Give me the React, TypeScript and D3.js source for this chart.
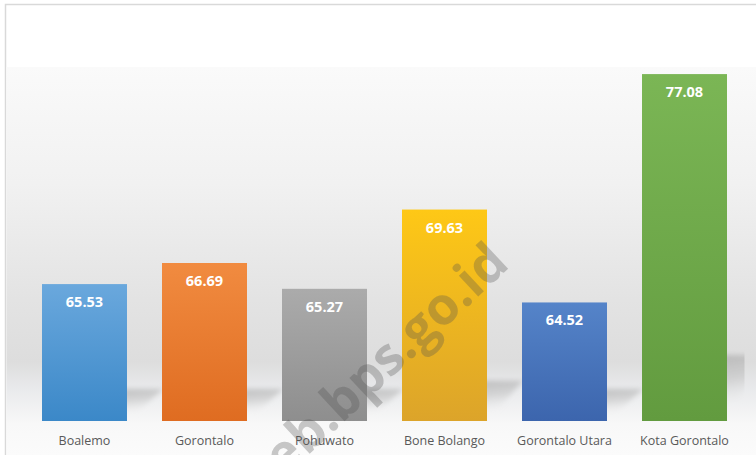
import React from "react";
import * as d3 from "d3";

const categories = ["Boalemo", "Gorontalo", "Pohuwato", "Bone Bolango", "Gorontalo Utara", "Kota Gorontalo"];
const values = [65.53, 66.69, 65.27, 69.63, 64.52, 77.08];
const topColors = ["#6aa8dd", "#f18b40", "#ababab", "#fec816", "#5584c9", "#7bb655"];
const bottomColors = ["#3b88c8", "#df6c21", "#8e8e8e", "#dca42a", "#3c65ad", "#629b3f"];
const watermark = "web.bps.go.id";

const W = 756;
const H = 455;

export default function App() {
  const x = d3
    .scaleBand<string>()
    .domain(categories)
    .range([24.5, 744.5])
    .paddingInner(0.2917)
    .paddingOuter(0.1458);
  const y = d3.scaleLinear().domain([58, 80]).range([421, 21]);
  const base = y(58);
  const bw = x.bandwidth();
  const [px0, px1] = x.range();

  return (
    <svg
      width={W}
      height={H}
      style={{ position: "absolute", left: 0, top: 0, display: "block" }}
      xmlns="http://www.w3.org/2000/svg"
    >
      <defs>
        <linearGradient id="bg" x1="0" y1="67" x2="0" y2="455" gradientUnits="userSpaceOnUse">
          <stop offset="0" stopColor="#fafafa" />
          <stop offset="0.3" stopColor="#f1f1f1" />
          <stop offset="0.6" stopColor="#e3e3e3" />
          <stop offset="0.76" stopColor="#dddddd" />
          <stop offset="0.83" stopColor="#e9eaec" />
          <stop offset="0.92" stopColor="#f8f8f8" />
          <stop offset="1" stopColor="#fbfbfb" />
        </linearGradient>
        {categories.map((c, i) => (
          <linearGradient key={c} id={`bar${i}`} x1="0" y1="0" x2="0" y2="1">
            <stop offset="0" stopColor={topColors[i]} />
            <stop offset="1" stopColor={bottomColors[i]} />
          </linearGradient>
        ))}
        <linearGradient id="shadow" x1="0" y1="0" x2="0.35" y2="1">
          <stop offset="0" stopColor="#a0a0a0" stopOpacity="0.8" />
          <stop offset="0.55" stopColor="#bdbdbd" stopOpacity="0.5" />
          <stop offset="1" stopColor="#ffffff" stopOpacity="0" />
        </linearGradient>
        <filter id="blur" x="-20%" y="-20%" width="140%" height="140%">
          <feGaussianBlur stdDeviation="2.5" />
        </filter>
        <clipPath id="plotClip">
          <rect x={px0} y={0} width={px1 - px0} height={base} />
        </clipPath>
      </defs>
      <rect x={0} y={0} width={W} height={H} fill="#ffffff" />
      <rect x={5.5} y={4.5} width={900} height={600} fill="#ffffff" stroke="#d9d9d9" strokeWidth={1.5} />
      <rect x={6.5} y={67} width={W} height={H - 67} fill="url(#bg)" />

      <g clipPath="url(#plotClip)">
        <g filter="url(#blur)">
          {categories.map((c, i) => {
            const x0 = x(c)!;
            const x1 = x0 + bw;
            const h = base - y(values[i]);
            const sh = Math.max(32, h * 0.19);
            const dx = 36;
            const pts = [
              [x0, base],
              [x0 + dx, base - sh],
              [x1 + dx, base - sh],
              [x1, base],
            ]
              .map((p) => p.join(","))
              .join(" ");
            return <polygon key={`s${c}`} points={pts} fill="url(#shadow)" />;
          })}
        </g>
      </g>

      {categories.map((c, i) => (
        <rect
          key={c}
          x={x(c)}
          y={y(values[i])}
          width={bw}
          height={base - y(values[i])}
          fill={`url(#bar${i})`}
        />
      ))}

      {categories.map((c, i) => (
        <text
          key={`v${c}`}
          x={x(c)! + bw / 2}
          y={y(values[i]) + 23}
          textAnchor="middle"
          fill="#ffffff"
          fontFamily="'Open Sans', sans-serif"
          fontWeight={700}
          fontSize={14.5}
        >
          {values[i].toFixed(2)}
        </text>
      ))}

      {categories.map((c) => (
        <text
          key={`l${c}`}
          x={x(c)! + bw / 2}
          y={444.5}
          textAnchor="middle"
          fill="#595959"
          fontFamily="'Open Sans', sans-serif"
          fontSize={12.5}
        >
          {c}
        </text>
      ))}

      <text
        transform="translate(511,266) rotate(-43)"
        textAnchor="end"
        fill="#505050"
        fillOpacity={0.3}
        fontFamily="'Open Sans', sans-serif"
        fontWeight={700}
        fontSize={52}
      >
        {watermark}
      </text>
    </svg>
  );
}
